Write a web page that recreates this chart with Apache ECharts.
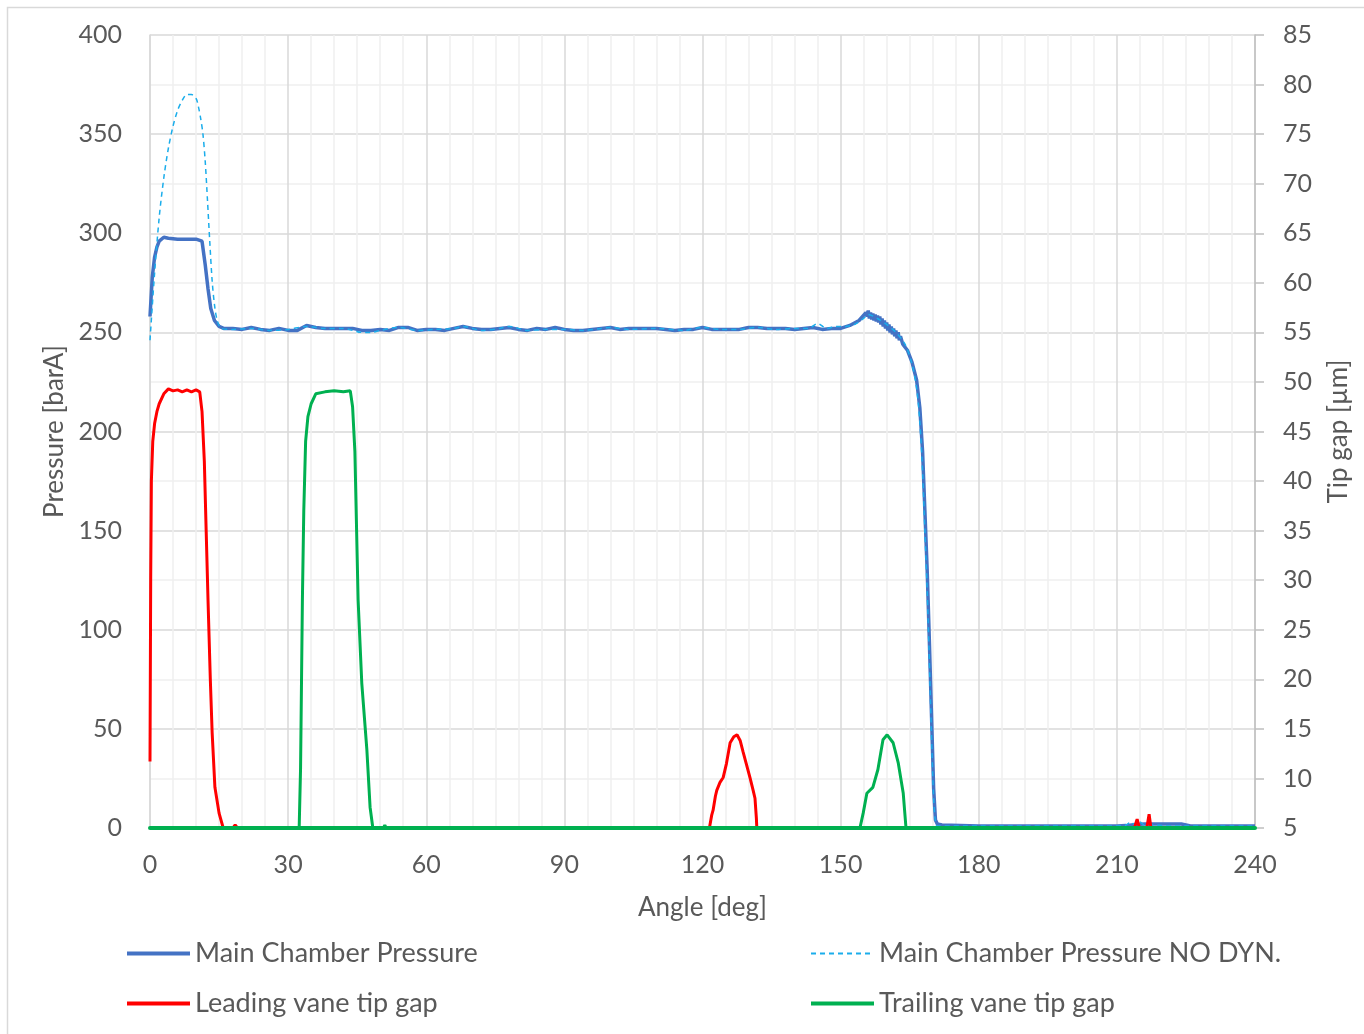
<!DOCTYPE html>
<html>
<head>
<meta charset="utf-8">
<script src="https://cdn.jsdelivr.net/npm/echarts@6/dist/echarts.min.js"></script>
<style>
html,body{margin:0;padding:0;background:#fff;}
#c{width:1364px;height:1034px;}
</style>
</head>
<body>
<div id="c"></div>
<script>
// ---- Data ----
const xTicks = [0, 30, 60, 90, 120, 150, 180, 210, 240];

// Main Chamber Pressure [barA]
const mainAngle = [0,0.5,1,1.5,2,3,4,6,8,10,11.3,12,12.6,13.2,14,15,16,18,20,22,24,26,28,30,32,34,36,38,40,42,44,46,48,50,52,54,56,58,60,62,64,66,68,70,72,74,76,78,80,82,84,86,88,90,92,94,96,98,100,102,104,106,108,110,112,114,116,118,120,122,124,126,128,130,132,134,136,138,140,142,144,146,148,150,152,154,155.5,155.75,156,156.25,156.5,156.75,157,157.25,157.5,157.75,158,158.25,158.5,158.75,159,159.25,159.5,159.75,160,160.25,160.5,160.75,161,161.25,161.5,161.75,162,162.25,162.5,162.75,163,163.5,164.5,165.5,166.5,167.2,167.8,168.3,168.8,169.2,169.7,170.2,170.6,171,172,180,200,210,212,214,216,218,220,222,224,225,226,230,240];
const mainP = [258,278,288,293,296,298,297.5,297,297,297,296,284,272,262,256,253,252,252,251.5,252.5,251.5,251,252,251,251,253.5,252.5,252,252,252,252,251,251,251.5,251,252.5,252.5,251,251.5,251.5,251,252,253,252,251.5,251.5,252,252.5,251.5,251,252,251.5,252.5,251.5,251,251,251.5,252,252.5,251.5,252,252,252,252,251.5,251,251.5,251.5,252.5,251.5,251.5,251.5,251.5,252.5,252.5,252,252,252,251.5,252,252.5,251.5,252,252,253.5,256,260,258,261,257,260,256.5,259.5,256,259,255.5,258.5,255,258,254,257,253,256,252,255,251,254,250,253,249,252,248,251,247,250,246,248,244,241,235,226,212,190,160,130,100,60,20,4,2,1.5,1,1,1,1.2,1.8,2,2,2,2,2,1.5,1,1,1];

// Main Chamber Pressure NO DYN. [barA]
const noDynAngle = [0,1,2,3,4,5,6,7,8,9,10,10.5,11,11.5,12,12.5,13,13.5,14,14.6,15.5,18,22,26,30,34,38,42,46,48,50,54,58,62,66,68,72,76,78,82,86,90,94,98,100,104,110,116,120,124,128,132,136,140,143,145,147,149,151,153,155,156,158,160,162,164,165.5,166.5,167.2,167.8,168.3,168.8,169.2,169.7,170.2,170.6,171,180,210,212,213,214,215,216,218,220,222,240];
const noDynP = [246,280,308,328,343,354,362,367,370,370,368,364,358,350,336,316,295,276,264,256,252,251.5,252,251,251.5,253,252,252,250,250,251,252.5,251,251.5,252,253,251,252,253,251,251.5,251.5,251,252,252.5,251.5,252,251,252.5,251.5,251.5,252.5,251.5,252,252,254.5,252,253,253,254,257,259,257,254,250,244,234,222,205,180,150,120,90,50,15,3,1,1,1,1.5,3,1.5,3,1.5,1.5,1.2,1,1];

// Leading vane tip gap [µm]
const leadAngle = [0,0.15,0.3,0.6,1,1.5,2,3,4,5,6,7,8,9,10,10.8,11.3,11.8,12.2,12.6,13.1,13.5,14.1,15,15.9,18,18.5,19,121.5,122,122.3,122.8,123.1,123.8,124.5,125.2,126,126.8,127.5,128.2,128.8,129.5,130.3,131,131.4,131.7,131.8,213.8,214.4,214.9,216.5,217,217.4,240];
const leadGap = [11.7,30,40,44,45.8,47,47.8,48.8,49.3,49.1,49.2,49,49.2,49,49.2,49,47,42,35,28,20,14.6,9.1,6.5,5,5,5.3,5,5,6.3,6.8,8.2,8.8,9.6,10.1,11.5,13.6,14.2,14.4,13.8,12.7,11.5,10.1,8.8,8,6,5,5,5.9,5,5,6.4,5,5];

// Trailing vane tip gap [µm]
const trailAngle = [0,32.4,32.7,33.1,33.4,33.8,34.3,35,36,38,40,42,43.5,44,44.5,45.2,46,47.1,47.8,48.4,50.7,51,51.3,154.2,154.9,155.7,157,158.1,159.2,160.1,161.4,162.5,163.6,164.2,240];
const trailGap = [5,5,11,28,37,44,46.5,47.8,48.8,49,49.1,49,49.1,47.5,43,28,19.6,12.9,7.1,5,5,5.3,5,5,6.5,8.5,9.1,10.9,13.9,14.4,13.6,11.6,8.5,5,5];

const zip = (a, b) => a.map((x, i) => [x, b[i]]);

const FONT = 'Lato';
const TXT = '#595959';

const legendCommon = {
  orient: 'vertical', top: 935,
  itemWidth: 63, itemHeight: 25, itemGap: 23,
  itemStyle: {opacity: 0},
  textStyle: {fontFamily: FONT, fontSize: 27, color: TXT}
};

const chart = echarts.init(document.getElementById('c'), null, {renderer: 'canvas'});
chart.setOption({
  backgroundColor: '#ffffff',
  animation: false,
  textStyle: {fontFamily: FONT},
  graphic: [{
    type: 'rect', left: 5, top: 5,
    shape: {width: 1380, height: 1050},
    style: {fill: 'none', stroke: '#d9d9d9', lineWidth: 1.5},
    silent: true
  }],
  grid: {left: 150, right: 109, top: 35, bottom: 206, containLabel: false},
  legend: [Object.assign({}, legendCommon, {
    left: 120,
    data: [
      {name: 'Main Chamber Pressure', lineStyle: {width: 4}},
      {name: 'Leading vane tip gap', lineStyle: {width: 4}}
    ]
  }), Object.assign({}, legendCommon, {
    left: 804,
    data: [
      {name: 'Main Chamber Pressure NO DYN.', lineStyle: {width: 2, type: [5, 4]}},
      {name: 'Trailing vane tip gap', lineStyle: {width: 4}}
    ]
  })],
  xAxis: [{
    type: 'value', min: 0, max: 240, interval: 30,
    name: 'Angle [deg]', nameLocation: 'middle', nameGap: 67,
    nameTextStyle: {fontFamily: FONT, fontSize: 26, color: TXT},
    axisLine: {show: true, lineStyle: {color: '#d9d9d9', width: 1.5}},
    axisTick: {show: false},
    axisLabel: {fontFamily: FONT, fontSize: 25, color: TXT, margin: 24,
      formatter: v => xTicks.includes(v) ? String(v) : ''},
    splitLine: {show: true, lineStyle: {color: '#d9d9d9', width: 1.5}},
    minorTick: {show: false, splitNumber: 6},
    minorSplitLine: {show: true, lineStyle: {color: '#f0f0f0', width: 1.5}}
  }, {
    // green baseline drawn over the traces (as in the reference)
    type: 'value', min: 0, max: 240, interval: 30, position: 'bottom', z: 10,
    axisLine: {show: true, onZero: false, lineStyle: {color: '#00B050', width: 4}},
    axisTick: {show: false}, axisLabel: {show: false},
    splitLine: {show: false}, minorSplitLine: {show: false}
  }],
  yAxis: [{
    type: 'value', min: 0, max: 400, interval: 50,
    name: 'Pressure [barA]', nameLocation: 'middle', nameGap: 82, nameRotate: 90,
    nameTextStyle: {fontFamily: FONT, fontSize: 26, color: TXT},
    axisLine: {show: true, lineStyle: {color: '#d9d9d9', width: 1.5}},
    axisTick: {show: false},
    axisLabel: {fontFamily: FONT, fontSize: 25, color: TXT, margin: 28},
    splitLine: {show: true, lineStyle: {color: '#d9d9d9', width: 1.5}},
    minorTick: {show: false, splitNumber: 2},
    minorSplitLine: {show: true, lineStyle: {color: '#f0f0f0', width: 1.5}}
  }, {
    type: 'value', min: 5, max: 85, interval: 5, position: 'right',
    name: 'Tip gap [µm]', nameLocation: 'middle', nameGap: 71, nameRotate: 90,
    nameTextStyle: {fontFamily: FONT, fontSize: 26, color: TXT},
    axisLine: {show: true, onZero: false, lineStyle: {color: '#bfbfbf', width: 1.5}},
    axisTick: {show: true, length: 9, lineStyle: {color: '#bfbfbf', width: 1.5}},
    axisLabel: {fontFamily: FONT, fontSize: 25, color: TXT, margin: 28},
    splitLine: {show: false}
  }],
  series: [{
    name: 'Main Chamber Pressure', type: 'line', yAxisIndex: 0,
    data: zip(mainAngle, mainP), symbol: 'none', smooth: false,
    lineStyle: {color: '#4472C4', width: 3.5}, itemStyle: {color: '#4472C4'}, z: 2
  }, {
    name: 'Main Chamber Pressure NO DYN.', type: 'line', yAxisIndex: 0,
    data: zip(noDynAngle, noDynP), symbol: 'none', smooth: 0.3,
    lineStyle: {color: '#1AADEB', width: 1.5, type: [5, 4]}, itemStyle: {color: '#1AADEB'}, z: 3
  }, {
    name: 'Leading vane tip gap', type: 'line', yAxisIndex: 1,
    data: zip(leadAngle, leadGap), symbol: 'none',
    lineStyle: {color: '#FF0000', width: 3}, itemStyle: {color: '#FF0000'}, z: 4
  }, {
    name: 'Trailing vane tip gap', type: 'line', yAxisIndex: 1,
    data: zip(trailAngle, trailGap), symbol: 'none',
    lineStyle: {color: '#00B050', width: 3}, itemStyle: {color: '#00B050'}, z: 6
  }]
});
</script>
</body>
</html>
